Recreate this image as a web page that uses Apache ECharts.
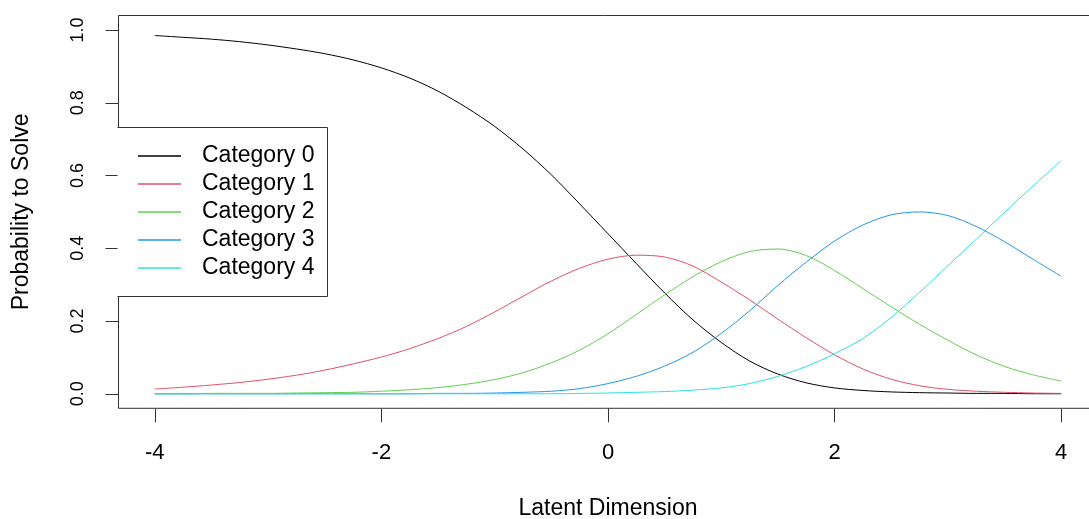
<!DOCTYPE html>
<html>
<head>
<meta charset="utf-8">
<script src="https://cdn.jsdelivr.net/npm/echarts@6/dist/echarts.min.js"></script>
<style>
html,body{margin:0;padding:0;background:#fff;}
#chart{width:1089px;height:519px;}
</style>
</head>
<body>
<div id="chart"></div>
<script>
// ---- data ----
var theta = [-4.00,-3.75,-3.50,-3.25,-3.00,-2.75,-2.50,-2.25,-2.00,-1.75,-1.50,-1.25,-1.00,-0.75,-0.50,-0.25,
             0.00,0.25,0.50,0.75,1.00,1.25,1.50,1.75,2.00,2.25,2.50,2.75,3.00,3.25,3.50,3.75,4.00];

var category0 = [0.985,0.980,0.975,0.968,0.959,0.948,0.935,0.918,0.896,0.868,0.832,0.787,0.735,0.673,0.602,0.522,
                 0.440,0.358,0.277,0.203,0.141,0.090,0.054,0.030,0.016,0.009,0.005,0.003,0.002,0.001,0.001,0.000,0.000];
var category1 = [0.013,0.018,0.024,0.031,0.040,0.051,0.065,0.082,0.101,0.124,0.152,0.185,0.225,0.268,0.310,0.345,
                 0.370,0.381,0.376,0.351,0.307,0.258,0.205,0.154,0.107,0.068,0.040,0.022,0.012,0.007,0.004,0.002,0.001];
var category2 = [0.000,0.000,0.001,0.001,0.001,0.002,0.003,0.004,0.007,0.011,0.017,0.026,0.039,0.058,0.085,0.120,
                 0.165,0.218,0.272,0.322,0.363,0.391,0.398,0.380,0.339,0.289,0.239,0.191,0.147,0.107,0.075,0.052,0.035];
var category3 = [0.000,0.000,0.000,0.000,0.000,0.000,0.000,0.000,0.000,0.000,0.001,0.001,0.002,0.004,0.007,0.014,
                 0.028,0.048,0.076,0.114,0.166,0.228,0.298,0.362,0.420,0.464,0.492,0.500,0.490,0.460,0.418,0.370,0.323];
var category4 = [0.000,0.000,0.000,0.000,0.000,0.000,0.000,0.000,0.000,0.000,0.000,0.000,0.000,0.000,0.000,0.001,
                 0.002,0.004,0.006,0.010,0.016,0.028,0.048,0.075,0.110,0.152,0.210,0.279,0.352,0.425,0.499,0.571,0.641];

var seriesNames = ['Category 0','Category 1','Category 2','Category 3','Category 4'];
var seriesColors = ['#000000','#DF536B','#61D04F','#2297E6','#28E2E5'];

var xTickValues = [-4,-2,0,2,4];
var xTickLabels = ['-4','-2','0','2','4'];
var yTickValues = [0,0.2,0.4,0.6,0.8,1.0];
var yTickLabels = ['0.0','0.2','0.4','0.6','0.8','1.0'];

var xTitle = 'Latent Dimension';
var yTitle = 'Probability to Solve';

// ---- build ----
function pairs(ys){ return theta.map(function(t,i){ return [t, ys[i]]; }); }
function lookup(vals, labels, v){
  for (var i=0;i<vals.length;i++){ if (Math.abs(vals[i]-v) < 1e-9) return labels[i]; }
  return '';
}
var allSeries = [category0,category1,category2,category3,category4];
var FONT = '"Liberation Sans", Arial, sans-serif';
var BOX = '#333333';

var chart = echarts.init(document.getElementById('chart'), null, {renderer:'canvas'});
chart.setOption({
  animation: false,
  backgroundColor: '#ffffff',
  textStyle: { fontFamily: FONT, color: '#000' },
  grid: {
    left: 118.5, top: 15.5, width: 979, height: 392.8,
    show: true, borderColor: BOX, borderWidth: 1, backgroundColor: 'transparent',
    containLabel: false, outerBoundsMode: 'none'
  },
  xAxis: {
    type: 'value', min: -4.32, max: 4.32,
    splitLine: { show: false },
    axisLine: { show: false, onZero: false },
    axisTick: { show: true, customValues: xTickValues, length: 14, lineStyle: { color: BOX, width: 1 } },
    axisLabel: {
      customValues: xTickValues, margin: 34, fontSize: 22, color: '#000', fontFamily: FONT,
      formatter: function(v){ return lookup(xTickValues, xTickLabels, v); }
    },
    name: xTitle, nameLocation: 'middle', nameGap: 89,
    nameTextStyle: { fontSize: 23, color: '#000', fontFamily: FONT }
  },
  yAxis: {
    type: 'value', min: -0.04, max: 1.04,
    splitLine: { show: false },
    axisLine: { show: false, onZero: false },
    axisTick: { show: true, customValues: yTickValues, length: 13, lineStyle: { color: BOX, width: 1 } },
    axisLabel: {
      customValues: yTickValues, rotate: 90, margin: 31, fontSize: 18, color: '#000', fontFamily: FONT,
      formatter: function(v){ return lookup(yTickValues, yTickLabels, v); }
    },
    name: yTitle, nameLocation: 'middle', nameGap: 85,
    nameTextStyle: { fontSize: 23, color: '#000', fontFamily: FONT }
  },
  legend: {
    orient: 'vertical', left: 138, top: 142, padding: 0, itemGap: 0,
    itemWidth: 43, itemHeight: 1.5, icon: 'rect', z: 100,
    selectedMode: false,
    data: seriesNames.map(function(n,i){ return { name: n, icon: 'rect', itemStyle: { color: seriesColors[i] } }; }),
    textStyle: { fontSize: 23, lineHeight: 28, color: '#000', fontFamily: FONT, padding: [0,0,0,16] }
  },
  graphic: [
    { type: 'rect', z: 50, silent: true,
      shape: { x: 117.5, y: 127.5, width: 210, height: 169 },
      style: { fill: '#ffffff', stroke: null } },
    { type: 'polyline', z: 51, silent: true,
      shape: { points: [[117.5,127.5],[327.5,127.5],[327.5,296.5],[117.5,296.5]] },
      style: { stroke: BOX, lineWidth: 1, fill: null } }
  ],
  series: allSeries.map(function(ys,i){
    return {
      type: 'line', name: seriesNames[i], data: pairs(ys),
      showSymbol: false, symbol: 'none', smooth: 0.3,
      lineStyle: { color: seriesColors[i], width: 1 },
      itemStyle: { color: seriesColors[i] },
      clip: true, z: 2
    };
  })
});
</script>
</body>
</html>
